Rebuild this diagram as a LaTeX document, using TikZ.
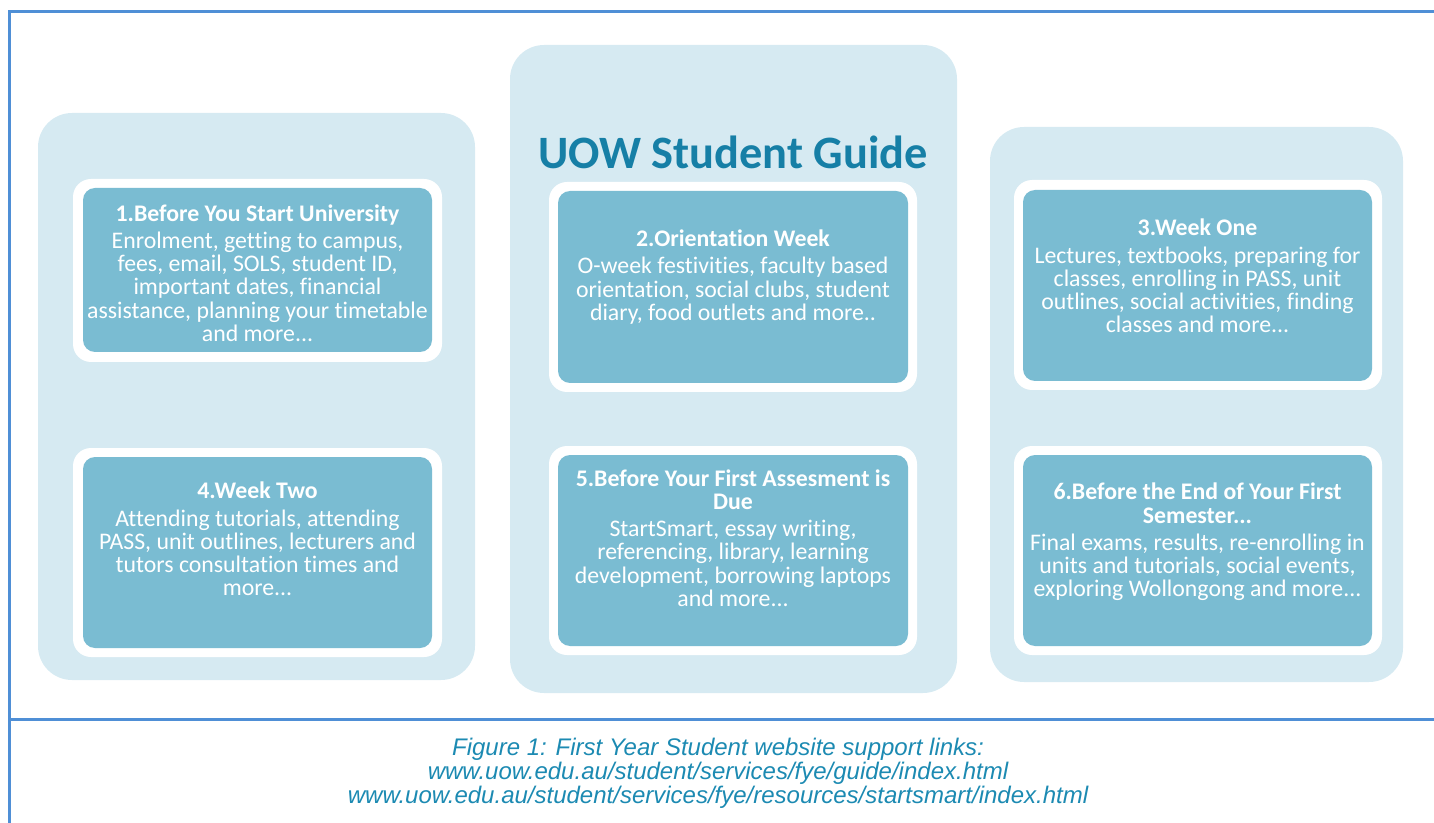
\documentclass[tikz,border=0pt]{standalone}
\usepackage{fontspec}
\setmainfont{Carlito}[Ligatures=NoCommon]
\newfontfamily\captionfont{Liberation Sans}

\definecolor{panelblue}{RGB}{214,234,242}
\definecolor{cardteal}{RGB}{122,188,210}
\definecolor{titleblue}{RGB}{22,127,166}
\definecolor{capblue}{RGB}{28,138,178}
\definecolor{frameblue}{RGB}{79,143,214}

\tikzset{
    panel/.style={fill=panelblue, rounded corners=17pt},
    ring/.style={fill=white, rounded corners=9pt},
    card/.style={fill=cardteal, rounded corners=6pt},
    cardtext/.style={text=white, align=center, font=\fontsize{11.9}{11.6}\selectfont},
    frameline/.style={draw=frameblue, line width=1.5pt}
}

\begin{document}
\begin{tikzpicture}[x=0.5pt, y=-0.5pt]
        \useasboundingbox (0,0) rectangle (1434,823);

        % Page frame
        \draw[frameline] (1434,12) -- (9,12) -- (9,823);
        \draw[frameline] (9,719) -- (1434,719);

        % Column panels
        \fill[panel] (38,113) rectangle (475,680);
        \fill[panel] (510,45) rectangle (957,693);
        \fill[panel] (990,127) rectangle (1403,682);

        \node[text=titleblue, font=\bfseries\fontsize{23.2}{26}\selectfont] (title) at (733,152) {UOW Student Guide};

        % Top row
        \fill[ring] (73,179) rectangle (442,362);
        \fill[card] (83,188) rectangle (432,352);
        \node[cardtext] (before) at (257.5,273) {{\bfseries 1.Before You Start University}\\[2pt]
            Enrolment, getting to campus,\\ fees, email, SOLS, student ID,\\ important dates, financial\\
            assistance, planning your timetable\\ and more...};

        \fill[ring] (549,182) rectangle (917,392);
        \fill[card] (558,191) rectangle (908,383);
        \node[cardtext] (oweek) at (733,277) {{\bfseries 2.Orientation Week}\\[2pt]
            O-week festivities, faculty based\\ orientation, social clubs, student\\ diary, food outlets and more..};

        \fill[ring] (1014,180) rectangle (1382,390);
        \fill[card] (1023,190) rectangle (1372,381);
        \node[cardtext] (weekone) at (1197.5,276) {{\bfseries 3.Week One}\\[2pt]
            Lectures, textbooks, preparing for\\ classes, enrolling in PASS, unit\\
            outlines, social activities, finding\\ classes and more...};

        % Bottom row
        \fill[ring] (73,448) rectangle (442,657);
        \fill[card] (83,457) rectangle (432,648);
        \node[cardtext] (weektwo) at (257.5,539) {{\bfseries 4.Week Two}\\[2pt]
            Attending tutorials, attending\\ PASS, unit outlines, lecturers and\\
            tutors consultation times and\\ more...};

        \fill[ring] (549,446) rectangle (917,655);
        \fill[card] (558,455) rectangle (908,646);
        \node[cardtext] (assess) at (733,538) {{\bfseries 5.Before Your First Assesment is}\\ {\bfseries Due}\\[2pt]
            StartSmart, essay writing,\\ referencing, library, learning\\
            development, borrowing laptops\\ and more...};

        \fill[ring] (1014,446) rectangle (1382,655);
        \fill[card] (1023,455) rectangle (1372,646);
        \node[cardtext] (semester) at (1197.5,542) {{\bfseries 6.Before the End of Your First}\\ {\bfseries Semester...}\\[2pt]
            Final exams, results, re-enrolling in\\ units and tutorials, social events,\\
            exploring Wollongong and more...};

        % Caption
        \node[text=capblue, align=center, font=\captionfont\itshape\fontsize{12}{12.1}\selectfont] (caption) at (718,773)
            {Figure 1: First Year Student website support links:\\
             www.uow.edu.au/student/services/fye/guide/index.html\\
             www.uow.edu.au/student/services/fye/resources/startsmart/index.html};
    \end{tikzpicture}
\end{document}
